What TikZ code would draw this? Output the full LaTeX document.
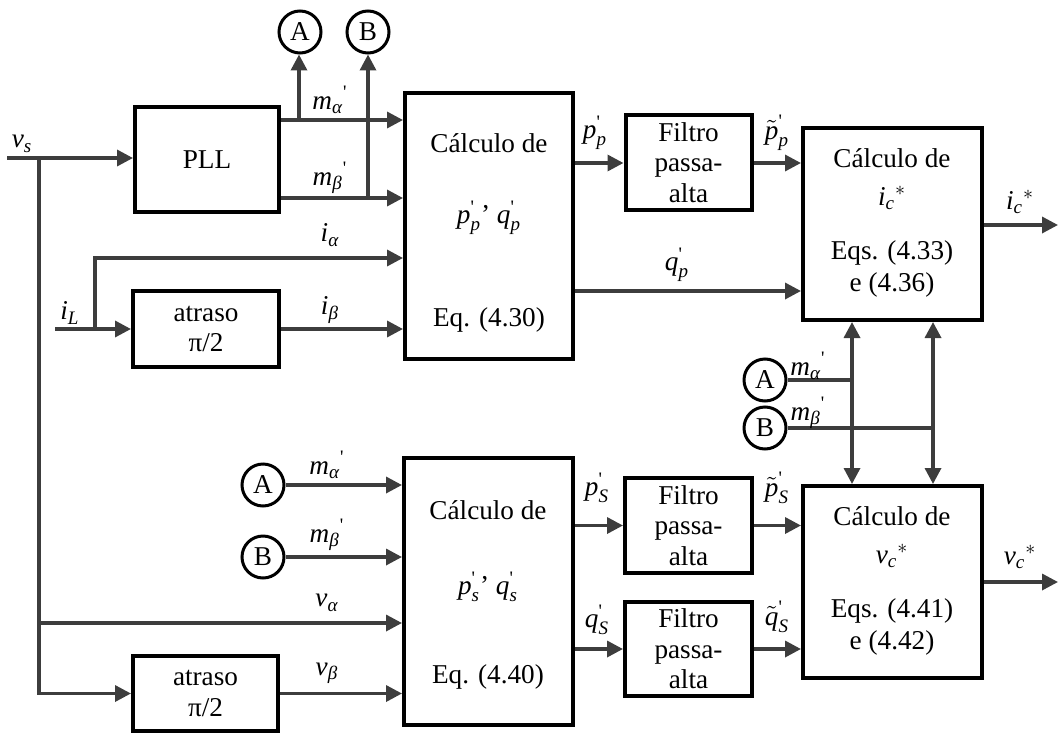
\documentclass[tikz,border=0pt]{standalone}
\usepackage{amsmath}
\usepackage{fontspec}
\setmainfont{Liberation Serif}
\usetikzlibrary{arrows.meta,calc}
\definecolor{wiregray}{HTML}{3d3d3d}
\newcommand{\tv}[1]{\text{\itshape #1}}
\newcommand{\pr}{\text{\textquotesingle}}

\begin{document}
\fontsize{13.6}{15.3}\selectfont
\begin{tikzpicture}[x=0.5pt,y=-0.5pt,
  blk/.style={draw=black,line width=2pt,inner sep=0pt,align=center},
  tag/.style={circle,draw=black,line width=1.5pt,minimum size=21pt,inner sep=0pt},
  wire/.style={draw=wiregray,line width=1.7pt},
  conn/.style={wire,-{Triangle[length=8pt,width=8pt]}},
  both/.style={wire,{Triangle[length=8pt,width=8pt]}-{Triangle[length=8pt,width=8pt]}},
  lbl/.style={inner sep=0pt}]
  \useasboundingbox (0,0) rectangle (1058,733);

  % blocos
  \node[blk,minimum width=72pt,minimum height=52.5pt] (pll) at (207,159.5) {PLL};
  \node[blk,minimum width=73pt,minimum height=38pt] (atrasoI) at (206,329) {atraso\\π/2};
  \node[blk,minimum width=84pt,minimum height=133pt] (calcP) at (489,226) {};
  \node[blk,minimum width=63pt,minimum height=47.5pt] (filtP) at (688.5,162.5) {Filtro\\passa-\\alta};
  \node[blk,minimum width=89.5pt,minimum height=96pt] (calcI) at (892.5,224) {};
  \node[blk,minimum width=84.5pt,minimum height=133.5pt] (calcS) at (488.5,591.5) {};
  \node[blk,minimum width=63.5pt,minimum height=47.5pt] (filtS1) at (688.5,525.5) {Filtro\\passa-\\alta};
  \node[blk,minimum width=63.5pt,minimum height=47pt] (filtS2) at (688.5,649) {Filtro\\passa-\\alta};
  \node[blk,minimum width=89.5pt,minimum height=96pt] (calcV) at (892.5,582) {};
  \node[blk,minimum width=72.5pt,minimum height=37.5pt] (atrasoV) at (205.5,693.5) {atraso\\π/2};

  % textos dos blocos de calculo
  \node[lbl] (tP1) at (489,143) {Cálculo de};
  \node[lbl] (tP2) at (489,218) {$\tv{p}^{\pr}_{\tv{p}}$’ $\tv{q}^{\pr}_{\tv{p}}$};
  \node[lbl] (tP3) at (489,320) {Eq. (4.30)};
  \node[lbl] (tI1) at (892,158) {Cálculo de};
  \node[lbl] (tI2) at (892,198) {$\tv{i}_{\tv{c}}{}^{*}$};
  \node[lbl] (tI3) at (892,253) {Eqs. (4.33)};
  \node[lbl] (tI4) at (892,285) {e (4.36)};
  \node[lbl] (tS1) at (488,510) {Cálculo de};
  \node[lbl] (tS2) at (488,587) {$\tv{p}^{\pr}_{\tv{s}}$’ $\tv{q}^{\pr}_{\tv{s}}$};
  \node[lbl] (tS3) at (488,677) {Eq. (4.40)};
  \node[lbl] (tV1) at (892,516) {Cálculo de};
  \node[lbl] (tV2) at (892,556) {$\tv{v}_{\tv{c}}{}^{*}$};
  \node[lbl] (tV3) at (892,611) {Eqs. (4.41)};
  \node[lbl] (tV4) at (892,643) {e (4.42)};

  % conectores A e B
  \node[tag] (cA1) at (300,32) {A};
  \node[tag] (cB1) at (368,32) {B};
  \node[tag] (cA2) at (765,380) {A};
  \node[tag] (cB2) at (765,428) {B};
  \node[tag] (cA3) at (263,485) {A};
  \node[tag] (cB3) at (263,557) {B};

  % pontos de derivacao
  \coordinate (vsin) at (7,158);
  \coordinate (vsj) at (39,158);
  \coordinate (ma) at (299,120);
  \coordinate (mb) at (368,198);
  \coordinate (iLin) at (55,329);
  \coordinate (iLj) at (95,329);
  \coordinate (vA) at (852,0);
  \coordinate (vB) at (933,0);
  \coordinate (icout) at (1058,225);
  \coordinate (vcout) at (1058,582);

  % parte superior
  \draw[conn] (vsin) -- (pll.west |- vsin);
  \draw[conn] (pll.east |- ma) -- (calcP.west |- ma);
  \draw[conn] (pll.east |- mb) -- (calcP.west |- mb);
  \draw[conn] (ma) -- (ma |- cA1.south);
  \draw[conn] (mb) -- (cB1);
  \draw[conn] (iLin) -- (atrasoI.west);
  \draw[conn] (iLj) |- (calcP.west |- 0,258);
  \draw[conn] (atrasoI.east) -- (calcP.west |- atrasoI.east);
  \draw[conn] (calcP.east |- 0,163) -- (filtP.west |- 0,163);
  \draw[conn] (filtP.east |- 0,163) -- (calcI.west |- 0,163);
  \draw[conn] (calcP.east |- 0,291) -- (calcI.west |- 0,291);
  \draw[conn] (calcI.east |- icout) -- (icout);

  % ligacao entre os blocos de referencia
  \draw[both] (calcI.south -| vA) -- (calcV.north -| vA);
  \draw[both] (calcI.south -| vB) -- (calcV.north -| vB);
  \draw[wire] (cA2) -- (vA |- cA2);
  \draw[wire] (cB2) -- (vB |- cB2);

  % parte inferior
  \draw[conn] (vsj) |- (atrasoV.west);
  \draw[conn] (vsj |- 0,623) -- (calcS.west |- 0,623);
  \draw[conn] (cA3) -- (calcS.west |- cA3);
  \draw[conn] (cB3) -- (calcS.west |- cB3);
  \draw[conn] (atrasoV.east) -- (calcS.west |- atrasoV.east);
  \draw[conn] (calcS.east |- filtS1) -- (filtS1.west);
  \draw[conn] (calcS.east |- filtS2) -- (filtS2.west);
  \draw[conn] (filtS1.east) -- (calcV.west |- filtS1.east);
  \draw[conn] (filtS2.east) -- (calcV.west |- filtS2.east);
  \draw[conn] (calcV.east |- vcout) -- (vcout);

  % rotulos dos sinais
  \node[lbl] (lvs) at (22,144) {$\tv{v}_{\tv{s}}$};
  \node[lbl] (lma1) at (330,100) {$\tv{m}_{\tv{α}}{}^{\pr}$};
  \node[lbl] (lmb1) at (330,178) {$\tv{m}_{\tv{β}}{}^{\pr}$};
  \node[lbl] (lia) at (330,235) {$\tv{i}_{\tv{α}}$};
  \node[lbl] (lib) at (330,310) {$\tv{i}_{\tv{β}}$};
  \node[lbl] (liL) at (70,313) {$\tv{i}_{\tv{L}}$};
  \node[lbl] (lpp) at (595,133) {$\tv{p}^{\pr}_{\tv{p}}$};
  \node[lbl] (lqp) at (677,265) {$\tv{q}^{\pr}_{\tv{p}}$};
  \node[lbl] (lptp) at (777,133) {$\tilde{\tv{p}}^{\pr}_{\tv{p}}$};
  \node[lbl] (lic) at (1020,202) {$\tv{i}_{\tv{c}}{}^{*}$};
  \node[lbl] (lma2) at (808,366) {$\tv{m}_{\tv{α}}{}^{\pr}$};
  \node[lbl] (lmb2) at (808,413) {$\tv{m}_{\tv{β}}{}^{\pr}$};
  \node[lbl] (lma3) at (327,465) {$\tv{m}_{\tv{α}}{}^{\pr}$};
  \node[lbl] (lmb3) at (327,535) {$\tv{m}_{\tv{β}}{}^{\pr}$};
  \node[lbl] (lva) at (327,603) {$\tv{v}_{\tv{α}}$};
  \node[lbl] (lvb) at (327,673) {$\tv{v}_{\tv{β}}$};
  \node[lbl] (lps) at (597,488) {$\tv{p}^{\pr}_{\tv{S}}$};
  \node[lbl] (lqs) at (597,620) {$\tv{q}^{\pr}_{\tv{S}}$};
  \node[lbl] (lpts) at (777,488) {$\tilde{\tv{p}}^{\pr}_{\tv{S}}$};
  \node[lbl] (lqts) at (777,617) {$\tilde{\tv{q}}^{\pr}_{\tv{S}}$};
  \node[lbl] (lvc) at (1020,557) {$\tv{v}_{\tv{c}}{}^{*}$};
\end{tikzpicture}
\end{document}
